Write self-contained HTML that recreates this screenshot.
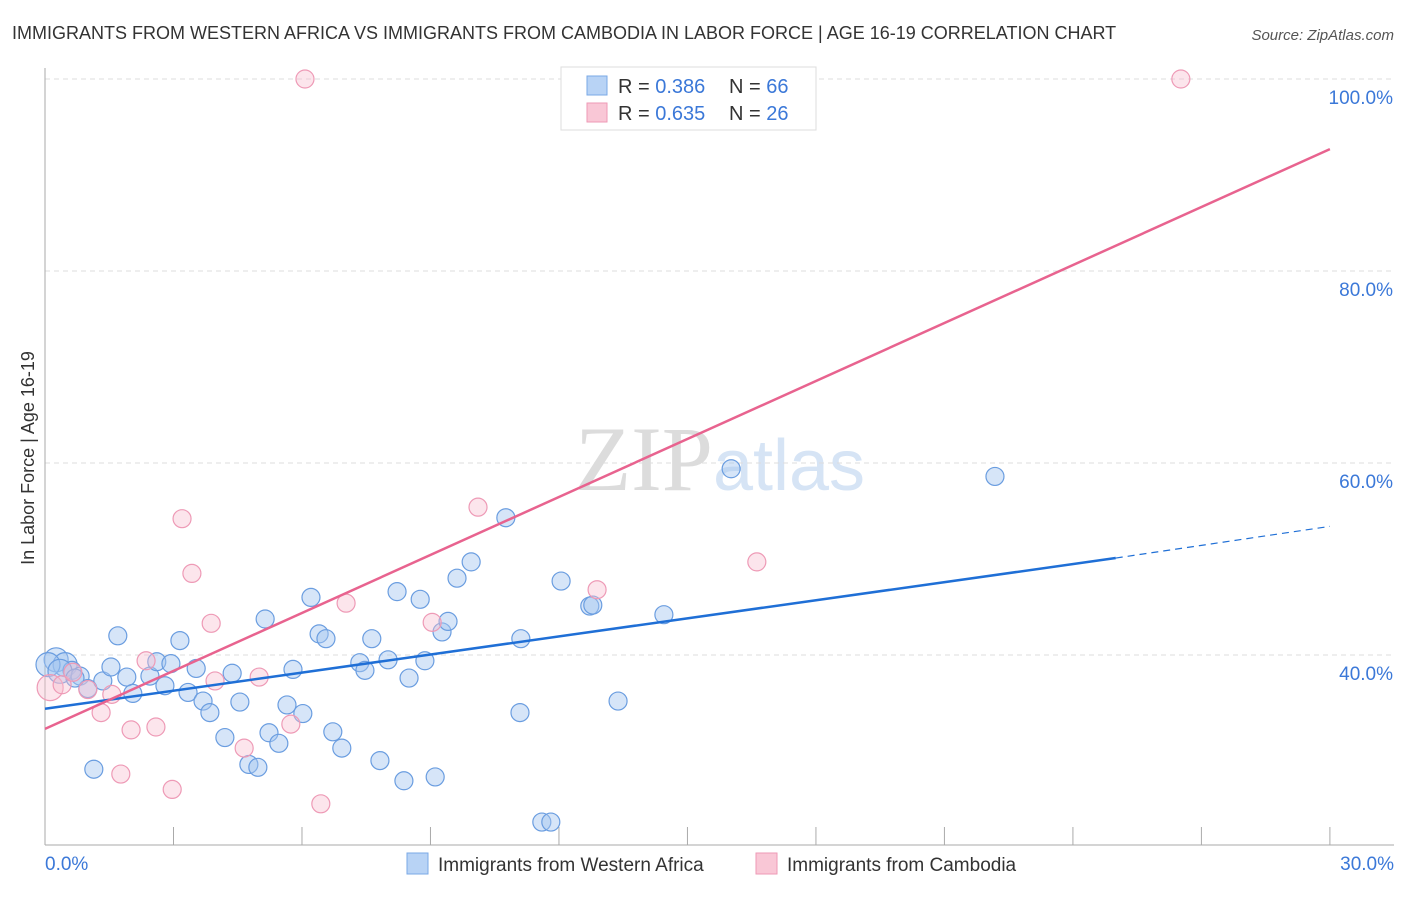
<!DOCTYPE html>
<html><head><meta charset="utf-8"><style>
body{margin:0;background:#fff;font-family:"Liberation Sans",sans-serif;}
svg text{font-family:"Liberation Sans",sans-serif;}
</style></head><body>
<svg id="chart" width="1406" height="892">
<text x="12" y="39" font-size="18" fill="#333">IMMIGRANTS FROM WESTERN AFRICA VS IMMIGRANTS FROM CAMBODIA IN LABOR FORCE | AGE 16-19 CORRELATION CHART</text>
<text x="1394" y="40" font-size="15" fill="#555" font-style="italic" text-anchor="end">Source: ZipAtlas.com</text>
<text x="720" y="490" font-size="92" fill="#e4e4e4" text-anchor="middle" font-family="Liberation Serif"><tspan fill="#dcdcdc" font-family="Liberation Serif">ZIP</tspan><tspan fill="#d6e4f5" font-family="Liberation Sans" font-size="72">atlas</tspan></text>
<text transform="translate(34,458) rotate(-90)" font-size="18" fill="#333" text-anchor="middle">In Labor Force | Age 16-19</text>
<g id="grid"></g><g id="marks"></g><g id="lines"></g>
<g>
<rect x="561" y="67" width="255" height="63" fill="#fff" stroke="#ddd"/>
<rect x="587" y="76" width="20" height="19" fill="#b8d3f5" stroke="#7aa8e6"/>
<rect x="587" y="103" width="20" height="19" fill="#f9c7d6" stroke="#ee9ab6"/>
<text x="618" y="93" font-size="20" fill="#333">R = <tspan fill="#3b78d8">0.386</tspan></text>
<text x="729" y="93" font-size="20" fill="#333">N = <tspan fill="#3b78d8">66</tspan></text>
<text x="618" y="120" font-size="20" fill="#333">R = <tspan fill="#3b78d8">0.635</tspan></text>
<text x="729" y="120" font-size="20" fill="#333">N = <tspan fill="#3b78d8">26</tspan></text>
</g>
<g>
<rect x="407" y="853" width="21" height="21" fill="#b8d3f5" stroke="#7aa8e6"/>
<text x="438" y="871" font-size="19" fill="#333">Immigrants from Western Africa</text>
<rect x="756" y="853" width="21" height="21" fill="#f9c7d6" stroke="#ee9ab6"/>
<text x="787" y="871" font-size="19" fill="#333">Immigrants from Cambodia</text>
</g>
</svg>
<script>
const yTicks=[40,60,80,100];
const yTickLabels=["40.0%","60.0%","80.0%","100.0%"];
const xEndLabels=["0.0%","30.0%"];
const blueX=[0.26,0.47,0.63,0.82,1.0,1.14,1.35,1.54,1.70,1.91,2.05,2.45,2.61,2.80,2.94,3.15,3.34,3.53,3.69,3.85,4.20,4.37,4.55,4.76,4.97,5.14,5.23,5.46,5.79,5.65,6.02,6.21,6.40,6.56,6.72,6.93,7.35,7.47,7.63,7.82,8.01,8.22,8.38,8.50,8.76,8.87,9.11,9.27,9.41,9.62,9.95,10.76,11.11,11.09,11.60,11.81,12.05,12.72,12.79,13.38,14.45,16.02,22.18,0.07,0.35,0.70];
const blueY=[39.5,39.0,38.4,37.8,36.5,28.1,37.3,38.75,42.0,37.7,36.0,37.8,39.3,36.8,39.1,41.5,36.1,38.6,35.2,34.0,31.4,38.1,35.1,28.6,28.3,43.75,31.9,30.8,38.5,34.8,33.9,46.0,42.2,41.7,32.0,30.3,39.2,38.4,41.7,29.0,39.5,46.6,26.9,37.6,45.8,39.4,27.3,42.4,43.5,48.0,49.7,54.3,41.7,34.0,22.6,22.6,47.7,45.1,45.2,35.2,44.2,59.4,58.6,39.0,38.3,37.6];
const pinkX=[6.07,26.52,0.12,0.40,0.65,1.0,1.31,1.56,1.77,2.01,2.36,2.59,2.97,3.20,3.43,3.88,3.97,4.65,5.0,5.74,6.44,7.03,9.04,10.11,12.89,16.62];
const pinkY=[100,100,36.6,36.9,38.2,36.4,34.0,35.9,27.6,32.2,39.4,32.5,26.0,54.2,48.5,43.3,37.3,30.3,37.7,32.8,24.5,45.4,43.4,55.4,46.8,49.7];
const blueTrend=[34.4,50.1,53.4];
const pinkTrend=[32.3,92.7];
const X=v=>45+v*42.83, Y=v=>79+(100-v)*9.6;
const NS="http://www.w3.org/2000/svg";
function mk(t,a,p){const e=document.createElementNS(NS,t);for(const k in a)e.setAttribute(k,a[k]);p.appendChild(e);return e;}
const grid=document.getElementById('grid'),marks=document.getElementById('marks'),lines=document.getElementById('lines');
yTicks.forEach((t,i)=>{
 const g=mk('line',{x1:45,x2:1394,y1:Y(t),y2:Y(t),stroke:'#ddd','stroke-dasharray':'5,4'},grid);
 
 
 const l=mk('text',{x:1393,y:Y(t)+25,'font-size':19,fill:'#3b78d8','text-anchor':'end'},grid);
 l.textContent=yTickLabels[i];
 
 
});
const ax=mk('line',{x1:45,x2:45,y1:68,y2:845,stroke:'#aaa'},grid);


const bx=mk('line',{x1:45,x2:1394,y1:845,y2:845,stroke:'#aaa'},grid);


for(let i=1;i<=10;i++){const t=mk('line',{x1:X(i*3),x2:X(i*3),y1:827,y2:845,stroke:'#aaa'},grid);
 
 }
[[0,'start',45],[30,'end',1394]].forEach((d,i)=>{const t=mk('text',{x:d[2],y:870,'font-size':19,fill:'#3b78d8','text-anchor':d[1]},grid);t.textContent=xEndLabels[i];
 
 });
blueX.forEach((x,i)=>{const c=mk('circle',{cx:X(x),cy:Y(blueY[i]),r:(x<0.5?12:9),fill:'rgba(164,198,240,0.45)',stroke:'#6a9de0','stroke-width':1.2},marks);
 
 });
pinkX.forEach((x,i)=>{const c=mk('circle',{cx:X(x),cy:Y(pinkY[i]),r:(x<0.2?13:9),fill:'rgba(248,190,208,0.4)',stroke:'#ee9ab6','stroke-width':1.2},marks);
 
 });
const bl=mk('line',{x1:X(0),y1:Y(blueTrend[0]),x2:X(25),y2:Y(blueTrend[1]),stroke:'#1f6fd6','stroke-width':2.5},lines);


const bd=mk('line',{x1:X(25),y1:Y(blueTrend[1]),x2:X(30),y2:Y(blueTrend[2]),stroke:'#1f6fd6','stroke-width':1.2,'stroke-dasharray':'7,5'},lines);


const pl=mk('line',{x1:X(0),y1:Y(pinkTrend[0]),x2:X(30),y2:Y(pinkTrend[1]),stroke:'#e8638f','stroke-width':2.5},lines);


</script>
</body></html>
